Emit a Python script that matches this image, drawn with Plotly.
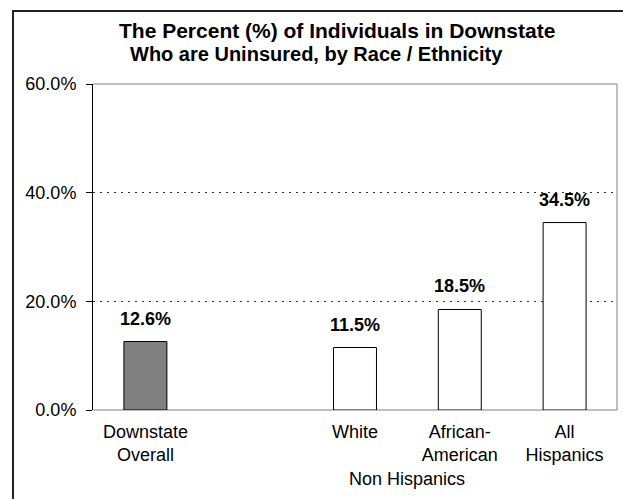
import plotly.graph_objects as go

# Uninsured share by race / ethnicity (percent)
categories = ["Downstate<br>Overall", " ", "White", "African-<br>American", "All<br>Hispanics"]
values = [12.6, None, 11.5, 18.5, 34.5]
bar_colors = ["#808080", "white", "white", "white", "white"]
y_ticks = [0, 20, 40, 60]
group_label = "Non Hispanics"
title_lines = ["The Percent (%) of Individuals in Downstate",
               "Who are Uninsured, by Race / Ethnicity"]

W, H = 623, 499
L, R, T, B = 93, 6, 84, 89
PW, PH = W - L - R, H - T - B
FONT = "Arial, 'Liberation Sans', sans-serif"


def px_x(px):
    return (px - L) / PW


def px_y(py):
    return (H - B - py) / PH


fig = go.Figure()
fig.add_trace(go.Bar(
    x=categories, y=values,
    marker=dict(color=bar_colors, line=dict(color="black", width=1)),
    width=0.41, hoverinfo="skip",
))

annotations = []
# value labels above each bar
for c, v in zip(categories, values):
    if v is None:
        continue
    annotations.append(dict(
        x=c, y=v, xref="x", yref="y", text=f"<b>{v:.1f}%</b>",
        showarrow=False, yanchor="middle", yshift=23,
        font=dict(family=FONT, size=18, color="black"),
    ))

# group caption under the two non-Hispanic categories
annotations.append(dict(
    x=2.5, y=0, xref="x", yref="paper", text=group_label,
    showarrow=False, yanchor="middle", yshift=-69,
    font=dict(family=FONT, size=18, color="black"),
))

# two-line title
for text, cx, cy, fs in zip(title_lines, [337, 316], [30, 54], [21, 20]):
    annotations.append(dict(
        x=px_x(cx), y=px_y(cy), xref="paper", yref="paper",
        text=f"<b>{text}</b>", showarrow=False,
        xanchor="center", yanchor="middle",
        font=dict(family=FONT, size=fs, color="black"),
    ))

shapes = [
    # plot-area border (top, right, bottom)
    dict(type="path", xref="paper", yref="paper",
         path="M 0,1 L 1,1 L 1,0 L 0,0",
         line=dict(color="#808080", width=1), layer="below"),
    # outer chart frame
    dict(type="rect", xref="paper", yref="paper",
         x0=px_x(13), x1=px_x(700), y0=px_y(560), y1=px_y(11),
         line=dict(color="#222222", width=2), fillcolor="rgba(0,0,0,0)"),
]

fig.update_layout(
    width=W, height=H,
    margin=dict(l=L, r=R, t=T, b=B),
    paper_bgcolor="white", plot_bgcolor="white",
    showlegend=False,
    annotations=annotations,
    shapes=shapes,
    font=dict(family=FONT, size=18, color="black"),
)

fig.update_xaxes(
    type="category", categoryorder="array", categoryarray=categories,
    range=[-0.5, 4.5], showline=False, showgrid=False, zeroline=False,
    ticks="", ticklabelstandoff=9,
    tickfont=dict(family=FONT, size=18, color="black"),
)

fig.update_yaxes(
    range=[0, 60], tickvals=y_ticks, ticktext=[f"{t:.1f}%" for t in y_ticks],
    showline=True, linecolor="black", linewidth=1,
    ticks="outside", ticklen=6, tickcolor="black",
    showgrid=True, gridcolor="#333333", griddash="2px,5px", gridwidth=1,
    zeroline=False, ticklabelstandoff=6,
    tickfont=dict(family=FONT, size=18, color="black"),
)

fig.write_html("out.html")
